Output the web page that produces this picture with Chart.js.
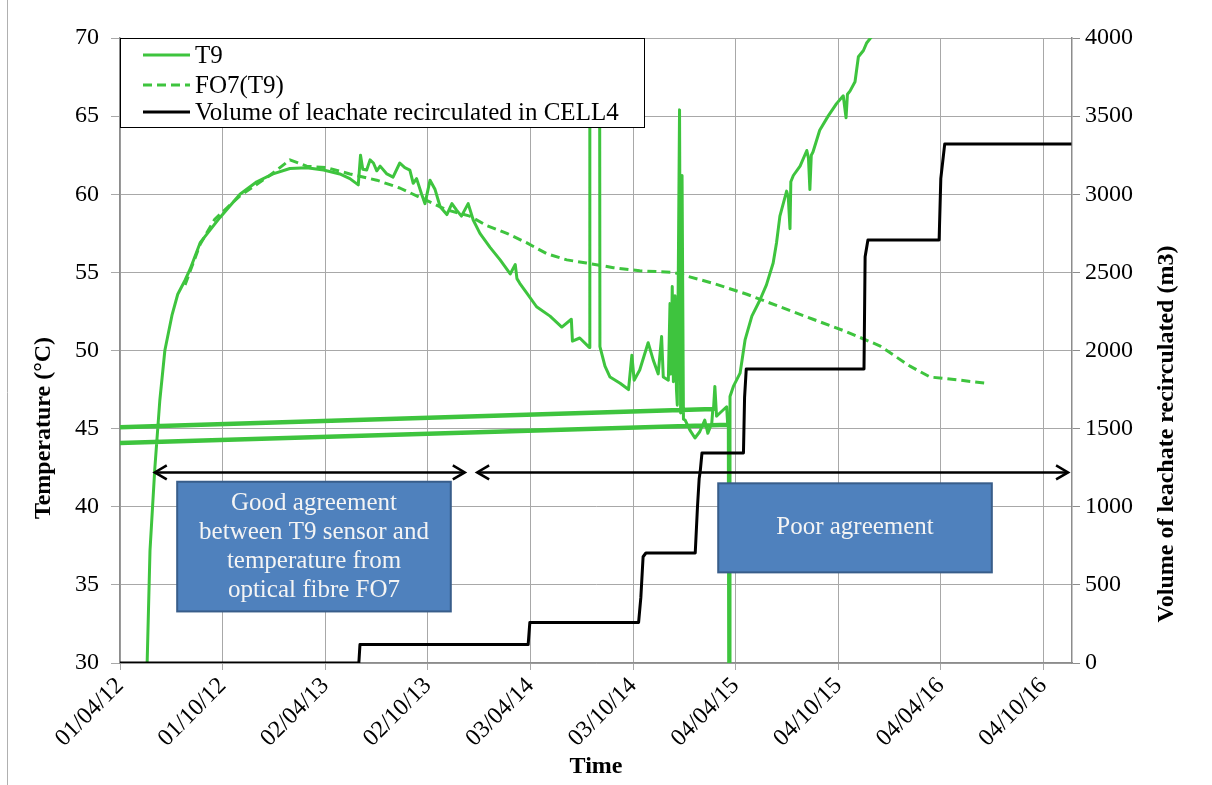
<!DOCTYPE html>
<html>
<head>
<meta charset="utf-8">
<script src="https://cdn.jsdelivr.net/npm/chart.js@4.4.1/dist/chart.umd.min.js"></script>
<style>
  html, body { margin: 0; padding: 0; background: #fff; }
  canvas { display: block; }
</style>
</head>
<body>
<canvas id="tempChart" width="1212" height="785"></canvas>
<script>
// x values are days counted from 01/04/12
const EXCEL_ZERO = -40970; // empty date cells (Excel serial 0) in the T9 sheet

const xTickDays = [0, 183, 366, 549, 732, 915, 1098, 1281, 1464, 1647];
const xTickLabels = ["01/04/12", "01/10/12", "02/04/13", "02/10/13", "03/04/14", "03/10/14", "04/04/15", "04/10/15", "04/04/16", "04/10/16"];

const t9Days = [47, 53.5, 62, 71, 80, 93, 103, 116, 125, 143, 178, 214, 244, 273, 303, 333, 363, 392, 410, 425,
  429, 433, 440, 446, 452, 458, 464, 476, 487, 499, 508, 517, 523, 529, 538, 544, 553, 562, 571, 583,
  592, 600, 609, 621, 630, 642, 660, 678, 696, 705, 708, 713, 725, 743, 767, 788, 805, 807, 820, 837,
  838, 854, 856, 865, 874, 892, 907, 913, 917, 927, 942, 951, 960, 966, 969, 978, 981, 982.5, 985, 987,
  990, 992.5, 994, 998, 1000, 1002.5, 1005, 1008, 1016.5, 1025.5, 1034, 1043, 1048.5, 1055.5, 1057.5, EXCEL_ZERO,
  1058.5, 1061, 1064, 1070, 1082, 1084, EXCEL_ZERO, 1085, 1087, 1088, 1094, 1106, 1115, 1127, 1141, 1153,
  1165, 1171, 1177, 1189, 1192, 1195, 1196.5, 1201, 1213, 1225, 1228, 1230.5, 1233, 1236, 1248, 1263, 1278, 1290,
  1295, 1297.5, 1302, 1311, 1317, 1326, 1332, 1341, 1352, 1364];
const t9Temp = [28, 37.2, 42.4, 46.8, 50.0, 52.3, 53.6, 54.5, 55.2, 56.9, 58.5, 60.0, 60.8, 61.3, 61.65, 61.7, 61.55, 61.3, 61.0, 60.6,
  62.5, 61.6, 61.55, 62.2, 62.0, 61.5, 61.8, 61.3, 61.1, 62.0, 61.7, 61.55, 60.7, 61.0, 60.0, 59.4, 60.9, 60.3, 59.2, 58.7,
  59.4, 59.0, 58.6, 59.4, 58.35, 57.5, 56.6, 55.8, 54.9, 55.5, 54.6, 54.3, 53.7, 52.8, 52.2, 51.5, 52.0, 50.6, 50.8, 50.2,
  120, 120, 50.25, 49.0, 48.3, 47.9, 47.5, 49.7, 48.1, 48.75, 50.5, 49.4, 48.5, 50.9, 48.3, 48.1, 53.0, 48.5, 54.1, 48.0,
  53.5, 47.5, 46.5, 65.4, 46.0, 61.2, 45.6, 45.55, 44.9, 44.4, 44.8, 45.55, 44.7, 45.35, 46.3, 0,
  46.2, 47.7, 45.8, 46.0, 46.4, 45.2, 0, 45.3, 0, 47.05, 47.7, 48.55, 50.7, 52.2, 53.2, 54.2,
  55.6, 56.9, 58.6, 60.2, 59.8, 57.8, 60.8, 61.2, 61.8, 62.8, 62.3, 60.3, 62.5, 62.7, 64.1, 65.0, 65.8, 66.3,
  64.9, 66.4, 66.6, 67.2, 68.8, 69.2, 69.7, 70.1, 70.6, 71.2];

const fo7Days = [116, 143, 169, 214, 267, 303, 333, 369, 410, 458, 499, 541, 583, 624, 654, 690, 725, 761, 797, 832,
  880, 927, 987, 1058, 1118, 1177, 1236, 1296, 1355, 1409, 1445, 1474, 1546];
const fo7Temp = [54.2, 56.8, 58.4, 59.9, 61.2, 62.2, 61.8, 61.7, 61.3, 60.9, 60.4, 59.7, 59.0, 58.6, 58.0, 57.5, 56.9, 56.2, 55.8, 55.6,
  55.3, 55.1, 55.0, 54.3, 53.6, 52.8, 52.0, 51.2, 50.3, 49.0, 48.3, 48.2, 47.9];

const volDays = [0, 426, 428, 728, 731, 925, 929, 933, 938, 1026, 1030, 1033, 1035, 1038, 1112, 1114, 1117, 1327, 1329, 1334,
  1461, 1464, 1471, 1697];
const volM3 = [0, 0, 118, 118, 260, 260, 420, 680, 704, 704, 1000, 1180, 1230, 1344, 1344, 1700, 1882, 1882, 2600, 2707,
  2707, 3100, 3322, 3322];

const seriesNames = ["T9", "FO7(T9)", "Volume of leachate recirculated in CELL4"];
const xTitle = "Time";
const yLeftTitle = "Temperature (°C)";
const yRightTitle = "Volume of leachate recirculated (m3)";

const agreementNotes = [
  { from: 62, to: 615, at: 42.2, box: [102, 590, 41.6, 33.3],
    lines: ["Good agreement", "between T9 sensor and", "temperature from", "optical fibre FO7"] },
  { from: 637, to: 1691, at: 42.2, box: [1067, 1555, 41.5, 35.8], lines: ["Poor agreement"] }
];

const FONT = "'Liberation Serif', 'Times New Roman', serif";
const GREEN = "#3ec43e";
const GRID = "#a8a8a8";
const AXIS = "#8c8c8c";

const toXY = (xs, ys) => xs.map((x, i) => ({ x: x, y: ys[i] }));

function arrowHead(ctx, x, y, dir) {
    ctx.beginPath();
    ctx.moveTo(x - dir * 12, y - 7);
    ctx.lineTo(x, y);
    ctx.lineTo(x - dir * 12, y + 7);
    ctx.stroke();
}

const extras = {
    id: "extras",
    afterDraw(chart) {
        const { ctx, chartArea, scales } = chart;
        const xs = scales.x, ys = scales.y;
        ctx.save();

        // outer frame
        ctx.strokeStyle = "#b0b0b0";
        ctx.lineWidth = 1;
        ctx.beginPath();
        ctx.moveTo(7.5, 0);
        ctx.lineTo(7.5, chart.height);
        ctx.stroke();

        // arrows and text boxes
        agreementNotes.forEach((n) => {
            const y = ys.getPixelForValue(n.at);
            const x0 = xs.getPixelForValue(n.from);
            const x1 = xs.getPixelForValue(n.to);
            ctx.strokeStyle = "#000";
            ctx.lineWidth = 2.5;
            ctx.beginPath();
            ctx.moveTo(x0, y);
            ctx.lineTo(x1, y);
            ctx.stroke();
            arrowHead(ctx, x0, y, -1);
            arrowHead(ctx, x1, y, 1);

            const bx0 = xs.getPixelForValue(n.box[0]);
            const bx1 = xs.getPixelForValue(n.box[1]);
            const by0 = ys.getPixelForValue(n.box[2]);
            const by1 = ys.getPixelForValue(n.box[3]);
            ctx.fillStyle = "#4f81bd";
            ctx.fillRect(bx0, by0, bx1 - bx0, by1 - by0);
            ctx.strokeStyle = "#385d8a";
            ctx.lineWidth = 2;
            ctx.strokeRect(bx0, by0, bx1 - bx0, by1 - by0);
            ctx.fillStyle = "#f4f4f4";
            ctx.font = "25px " + FONT;
            ctx.textAlign = "center";
            ctx.textBaseline = "middle";
            const lh = 29;
            const cy = (by0 + by1) / 2 - (n.lines.length - 1) * lh / 2;
            n.lines.forEach((t, i) => ctx.fillText(t, (bx0 + bx1) / 2, cy + i * lh));
        });

        // legend
        const lx = chartArea.left, ly = chartArea.top;
        ctx.fillStyle = "#fff";
        ctx.fillRect(lx, ly, 524, 89);
        ctx.strokeStyle = "#000";
        ctx.lineWidth = 1;
        ctx.strokeRect(lx + 0.5, ly + 0.5, 524, 89);
        const rows = [17, 47, 74];
        ctx.font = "25px " + FONT;
        ctx.textAlign = "left";
        ctx.textBaseline = "middle";
        chart.data.datasets.forEach((ds, i) => {
            const y = ly + rows[i];
            ctx.strokeStyle = ds.borderColor;
            ctx.lineWidth = 3;
            ctx.setLineDash(ds.borderDash || []);
            ctx.beginPath();
            ctx.moveTo(lx + 23, y);
            ctx.lineTo(lx + 70, y);
            ctx.stroke();
            ctx.setLineDash([]);
            ctx.fillStyle = "#000";
            ctx.fillText(ds.label, lx + 75, y + 1);
        });

        // vertical axis titles
        ctx.font = "bold 24px " + FONT;
        ctx.textAlign = "center";
        ctx.fillStyle = "#000";
        [[44, 428, yLeftTitle], [1167, 434, yRightTitle]].forEach(([x, y, t]) => {
            ctx.save();
            ctx.translate(x, y);
            ctx.rotate(-Math.PI / 2);
            ctx.fillText(t, 0, 0);
            ctx.restore();
        });
        ctx.restore();
    }
};

const tickFont = { family: FONT, size: 24 };

new Chart(document.getElementById("tempChart"), {
    type: "line",
    data: {
        datasets: [
            { label: seriesNames[0], data: toXY(t9Days, t9Temp), yAxisID: "y", borderColor: GREEN, borderWidth: 3, order: 1 },
            { label: seriesNames[1], data: toXY(fo7Days, fo7Temp), yAxisID: "y", borderColor: GREEN, borderWidth: 3, borderDash: [9, 5], order: 2 },
            { label: seriesNames[2], data: toXY(volDays, volM3), yAxisID: "y1", borderColor: "#000", borderWidth: 3, order: 0 }
        ]
    },
    options: {
        responsive: false,
        animation: false,
        devicePixelRatio: 1,
        layout: { padding: { left: 28, right: 30, top: 38, bottom: 0 } },
        elements: { point: { radius: 0 }, line: { tension: 0, borderJoinStyle: "round" } },
        plugins: { legend: { display: false }, tooltip: { enabled: false } },
        scales: {
            x: {
                type: "linear",
                min: 0,
                max: 1698,
                afterBuildTicks: (s) => { s.ticks = xTickDays.map((v) => ({ value: v })); },
                afterFit: (s) => { s.height = 122; },
                ticks: {
                    callback: (v, i) => xTickLabels[i],
                    minRotation: 45,
                    maxRotation: 45,
                    autoSkip: false,
                    font: tickFont,
                    color: "#000",
                    padding: 2
                },
                grid: { color: GRID, tickLength: 7 },
                border: { color: AXIS, width: 1.5 },
                title: { display: true, text: xTitle, color: "#000", font: { family: FONT, size: 24, weight: "bold" }, padding: { top: 0, bottom: 4 } }
            },
            y: {
                position: "left",
                min: 30,
                max: 70,
                afterFit: (s) => { s.width = 92; },
                ticks: { stepSize: 5, font: tickFont, color: "#000", padding: 12, callback: (v) => String(v) },
                grid: { color: GRID, tickLength: 9 },
                border: { color: AXIS, width: 1.5 }
            },
            y1: {
                position: "right",
                min: 0,
                max: 4000,
                afterFit: (s) => { s.width = 110; },
                ticks: { stepSize: 500, font: tickFont, color: "#000", padding: 5, callback: (v) => String(v) },
                grid: { drawOnChartArea: false, color: AXIS, tickLength: 8 },
                border: { color: AXIS, width: 1.5 }
            }
        }
    },
    plugins: [extras]
});
</script>
</body>
</html>
